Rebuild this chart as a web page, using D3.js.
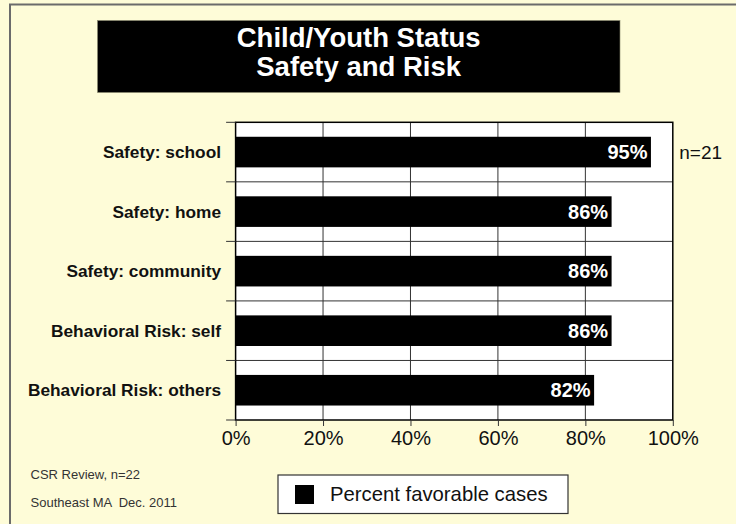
<!DOCTYPE html>
<html>
<head>
<meta charset="utf-8">
<script src="https://cdn.jsdelivr.net/npm/d3@7"></script>
<style>
  html, body { margin: 0; padding: 0; background: #FEFCD8; }
  svg { display: block; }
  text { font-family: "Liberation Sans", Arial, Helvetica, sans-serif; white-space: pre; }
</style>
</head>
<body>
<svg id="chart" width="736" height="524"></svg>
<script>
const titleLines = ["Child/Youth Status", "Safety and Risk"];
const categories = ["Safety: school", "Safety: home", "Safety: community", "Behavioral Risk: self", "Behavioral Risk: others"];
const values = [95, 86, 86, 86, 82];
const xTicks = [0, 20, 40, 60, 80, 100];
const sideNote = "n=21";
const legendLabel = "Percent favorable cases";
const footnotes = ["CSR Review, n=22", "Southeast MA  Dec. 2011"];

(function () {
const svg = d3.select("#chart");
const W = 736, H = 524;

// background + frame
svg.append("rect").attr("x", 0).attr("y", 0).attr("width", W).attr("height", H).attr("fill", "#FEFCD8");
svg.append("path")
  .attr("d", "M10,530 L10,4.5 L740,4.5")
  .attr("fill", "none").attr("stroke", "#6b6b6b").attr("stroke-width", 2);

// title
svg.append("rect").attr("x", 97.5).attr("y", 20.5).attr("width", 522.5).attr("height", 72)
  .attr("fill", "#000").attr("stroke", "#8a8a70").attr("stroke-width", 0.6);
svg.selectAll(".title").data(titleLines).enter().append("text")
  .attr("class", "title")
  .attr("x", 358.7)
  .attr("y", (d, i) => 47 + i * 28.5)
  .attr("text-anchor", "middle")
  .attr("fill", "#fff")
  .attr("font-weight", "bold")
  .attr("font-size", 27.5)
  .text(d => d);

// plot area
const pL = 235.6, pR = 672.8, pT = 122.3, pB = 420;
const x = d3.scaleLinear().domain([0, 100]).range([pL, pR]);
const yBand = d3.scaleBand().domain(categories).range([pT, pB]).paddingInner(0).paddingOuter(0);
const yBar = d3.scaleBand().domain(categories).range([pT, pB]).paddingInner(0.486).paddingOuter(0.243);

svg.append("rect").attr("x", pL).attr("y", pT).attr("width", pR - pL).attr("height", pB - pT)
  .attr("fill", "#fff");

// vertical gridlines
svg.selectAll(".vgrid").data(xTicks.filter(t => t > 0 && t < 100)).enter().append("line")
  .attr("x1", d => x(d)).attr("x2", d => x(d))
  .attr("y1", pT).attr("y2", pB)
  .attr("stroke", "#333").attr("stroke-width", 1);

// horizontal gridlines at category boundaries
const boundaries = categories.slice(1).map(c => yBand(c));
svg.selectAll(".hgrid").data(boundaries).enter().append("line")
  .attr("x1", pL).attr("x2", pR)
  .attr("y1", d => d).attr("y2", d => d)
  .attr("stroke", "#333").attr("stroke-width", 1);

// bars
svg.selectAll(".bar").data(categories).enter().append("rect")
  .attr("x", pL)
  .attr("y", d => yBar(d))
  .attr("width", (d, i) => x(values[i]) - pL)
  .attr("height", yBar.bandwidth())
  .attr("fill", "#000");

// value labels
svg.selectAll(".val").data(categories).enter().append("text")
  .attr("x", (d, i) => x(values[i]) - 3.5)
  .attr("y", d => yBand(d) + yBand.bandwidth() / 2 + 7)
  .attr("text-anchor", "end")
  .attr("fill", "#fff")
  .attr("font-weight", "bold")
  .attr("font-size", 20)
  .text((d, i) => values[i] + "%");

// plot border
svg.append("rect").attr("x", pL).attr("y", pT).attr("width", pR - pL).attr("height", pB - pT)
  .attr("fill", "none").attr("stroke", "#000").attr("stroke-width", 1.5);

// y axis ticks at boundaries
const yTickPos = [pT].concat(boundaries).concat([pB]);
svg.selectAll(".ytick").data(yTickPos).enter().append("line")
  .attr("x1", pL - 9.5).attr("x2", pL)
  .attr("y1", d => d).attr("y2", d => d)
  .attr("stroke", "#333").attr("stroke-width", 1);

// category labels
svg.selectAll(".cat").data(categories).enter().append("text")
  .attr("x", 221)
  .attr("y", d => yBand(d) + yBand.bandwidth() / 2 + 6)
  .attr("text-anchor", "end")
  .attr("fill", "#111")
  .attr("font-weight", "bold")
  .attr("font-size", 17.3)
  .text(d => d);

// x axis
const xAxis = d3.axisBottom(x).tickValues(xTicks).tickSize(6).tickPadding(5).tickFormat(d => d + "%");
const gx = svg.append("g").attr("transform", `translate(0,${pB})`).call(xAxis);
gx.select(".domain").remove();
gx.selectAll(".tick line").attr("stroke", "#333");
gx.selectAll(".tick text")
  .attr("font-family", "'Liberation Sans', Arial, Helvetica, sans-serif")
  .attr("font-size", 20).attr("fill", "#111");

// side note
svg.append("text").attr("x", pR + 6.5).attr("y", yBand(categories[0]) + yBand.bandwidth() / 2 + 7)
  .attr("font-size", 19).attr("fill", "#111").text(sideNote);

// legend
svg.append("rect").attr("x", 278).attr("y", 475).attr("width", 290).attr("height", 38.5)
  .attr("fill", "#fff").attr("stroke", "#333").attr("stroke-width", 1.2);
svg.append("rect").attr("x", 295).attr("y", 485).attr("width", 19).attr("height", 19).attr("fill", "#000");
svg.append("text").attr("x", 330).attr("y", 501).attr("font-size", 20.3).attr("fill", "#111").text(legendLabel);

// footnotes
svg.selectAll(".foot").data(footnotes).enter().append("text")
  .attr("x", 30.5)
  .attr("y", (d, i) => 479.3 + i * 27.4)
  .attr("font-size", 13).attr("fill", "#333")
  .attr("xml:space", "preserve")
  .text(d => d);
})();
</script>
</body>
</html>
